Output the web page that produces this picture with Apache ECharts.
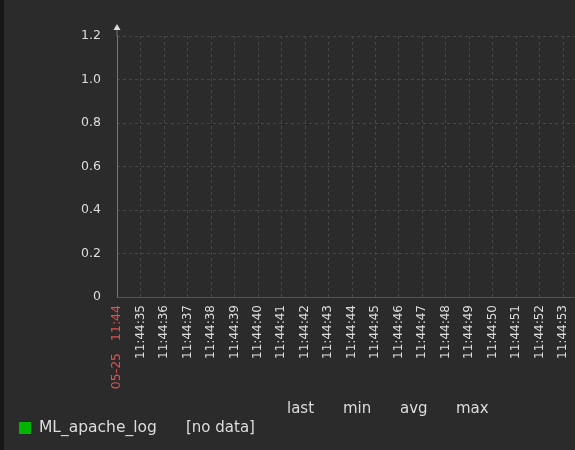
<!DOCTYPE html>
<html><head><meta charset="utf-8">
<script src="https://cdn.jsdelivr.net/npm/echarts@6/dist/echarts.min.js"></script>
<style>html,body{margin:0;padding:0;background:#2b2b2b;}#c{width:575px;height:450px;}</style>
</head><body><div id="c"></div>
<script>
const seriesName = 'ML_apache_log';
const seriesValues = [];
const timeLabels = ['05-25   11:44','11:44:35','11:44:36','11:44:37','11:44:38','11:44:39','11:44:40','11:44:41','11:44:42','11:44:43','11:44:44','11:44:45','11:44:46','11:44:47','11:44:48','11:44:49','11:44:50','11:44:51','11:44:52','11:44:53'];
const yTicks = ['0','0.2','0.4','0.6','0.8','1.0','1.2'];
const statHeaders = ['last','min','avg','max'];
const noDataText = '[no data]';

const chart = echarts.init(document.getElementById('c'));
const font = 'DejaVu Sans';
const headerX = [287, 343, 400, 456];
const txtFont = '15px "DejaVu Sans"';
chart.setOption({
  backgroundColor: '#2b2b2b',
  animation: false,
  grid: {left: 117, right: 0, top: 36, bottom: 153, containLabel: false},
  xAxis: {
    type: 'value', min: 0, max: 19.51, interval: 1,
    axisLine: {show: true, lineStyle: {color: '#555', width: 1}},
    axisTick: {show: false},
    splitLine: {show: true, showMinLine: false, showMaxLine: false, lineStyle: {color: '#474747', type: [3, 3]}},
    axisLabel: {
      rotate: 90, margin: 8, fontFamily: font, fontSize: 12, showMaxLabel: false, color: '#dddddd',
      formatter: v => {
        if (!(Number.isInteger(v) && timeLabels[v] !== undefined)) return '';
        return v === 0 ? '{r|' + timeLabels[v] + '}' : timeLabels[v];
      },
      rich: {r: {color: '#e05050', fontFamily: font, fontSize: 12.5}}
    }
  },
  yAxis: {
    type: 'value', min: 0, max: 1.2, interval: 0.2,
    axisLine: {show: true, lineStyle: {color: '#777', width: 1}},
    axisTick: {show: false},
    splitLine: {show: true, showMinLine: false, lineStyle: {color: '#474747', type: [3, 3]}},
    axisLabel: {
      margin: 16, fontFamily: font, fontSize: 12.5, color: '#dddddd',
      formatter: v => yTicks[Math.round(v / 0.2)]
    }
  },
  legend: {
    left: 14, top: 415, icon: 'rect', itemWidth: 12, itemHeight: 12, itemGap: 10,
    textStyle: {color: '#dddddd', fontFamily: font, fontSize: 15.5, padding: [0, 0, 0, 3]},
    data: [seriesName]
  },
  series: [{name: seriesName, type: 'line', data: seriesValues, color: '#00b400', showSymbol: false}]
});

// axis extension with arrow, anchored to the y axis top via the chart's own scale
const yTop = chart.convertToPixel({yAxisIndex: 0}, 1.2);
const ax = chart.convertToPixel({xAxisIndex: 0}, 0);
chart.setOption({
  graphic: [
    {type: 'rect', left: 0, top: 0, shape: {width: 4, height: 450}, style: {fill: '#141516'}},
    {type: 'line', shape: {x1: ax, y1: yTop, x2: ax, y2: yTop - 8}, style: {stroke: '#777', lineWidth: 1}},
    {type: 'polygon', shape: {points: [[ax - 3.5, yTop - 6], [ax + 3.5, yTop - 6], [ax, yTop - 12]]}, style: {fill: '#dddddd'}},
    {type: 'text', left: 186, top: 421, style: {text: noDataText, fill: '#dddddd', font: txtFont}}
  ].concat(statHeaders.map((h, i) => ({type: 'text', left: headerX[i], top: 402, style: {text: h, fill: '#dddddd', font: txtFont}})))
});
</script></body></html>
